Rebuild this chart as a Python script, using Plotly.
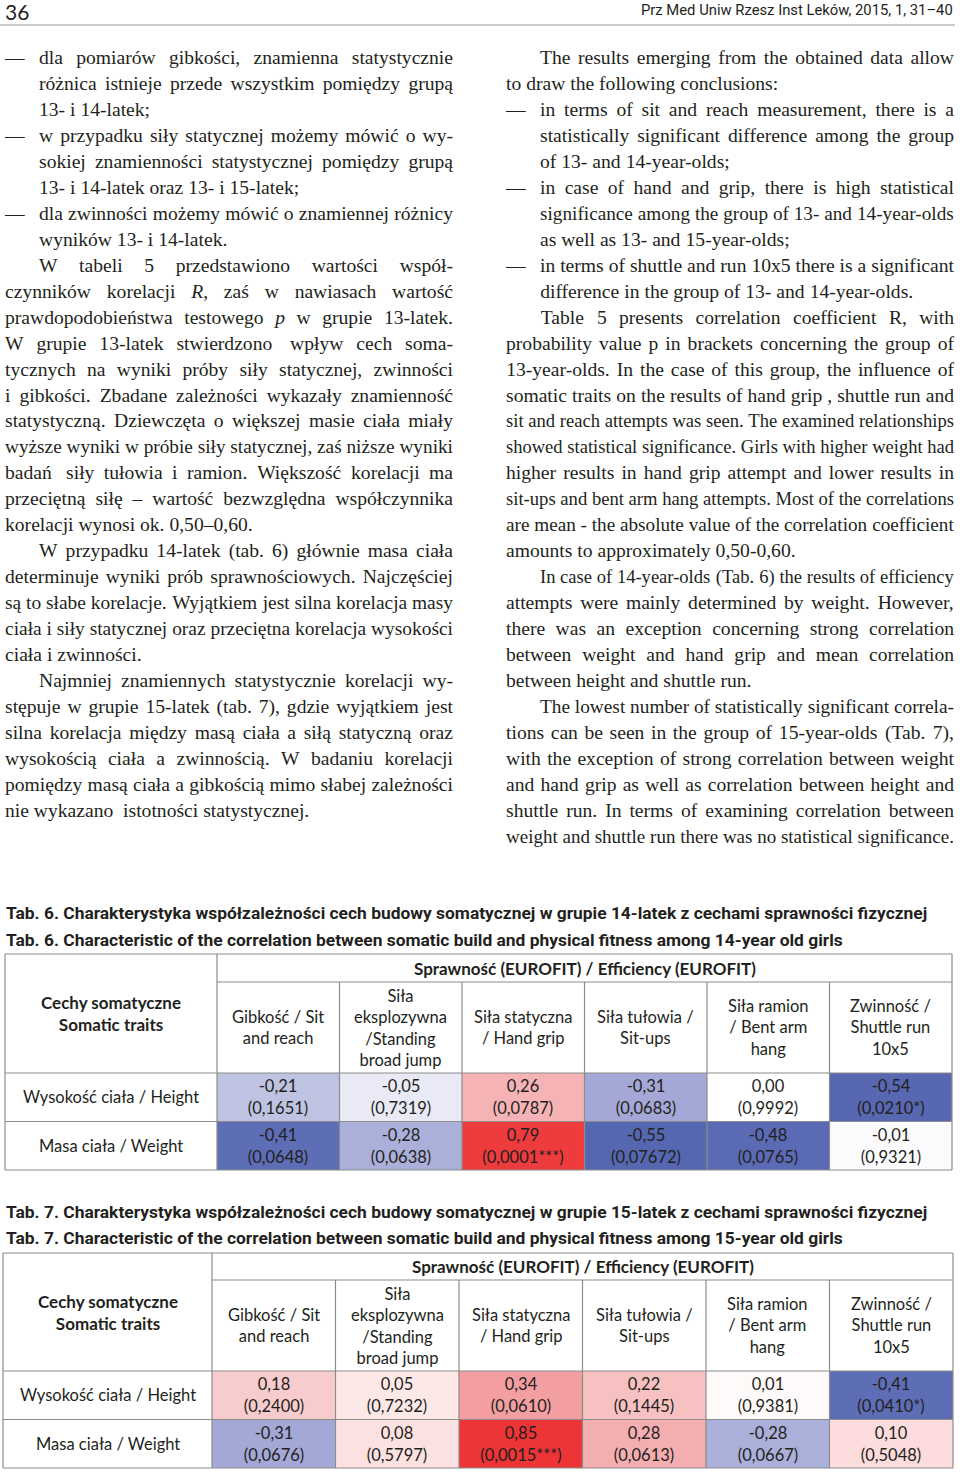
import plotly.graph_objects as go

W, H = 960, 1474

# ---------------- data ----------------
fitness_tests = [
    "Gibkość / Sit<br>and reach",
    "Siła<br>eksplozywna<br>/Standing<br>broad jump",
    "Siła statyczna<br>/ Hand grip",
    "Siła tułowia /<br>Sit-ups",
    "Siła ramion<br>/ Bent arm<br>hang",
    "Zwinność /<br>Shuttle run<br>10x5",
]
somatic_traits = ["Wysokość ciała / Height", "Masa ciała / Weight"]

r_14 = [[-0.21, -0.05, 0.26, -0.31, 0.00, -0.54],
        [-0.41, -0.28, 0.79, -0.55, -0.48, -0.01]]
p_14 = [["0,1651", "0,7319", "0,0787", "0,0683", "0,9992", "0,0210*"],
        ["0,0648", "0,0638", "0,0001***", "0,07672", "0,0765", "0,9321"]]

r_15 = [[0.18, 0.05, 0.34, 0.22, 0.01, -0.41],
        [-0.31, 0.08, 0.85, 0.28, -0.28, 0.10]]
p_15 = [["0,2400", "0,7232", "0,0610", "0,1445", "0,9381", "0,0410*"],
        ["0,0676", "0,5797", "0,0015***", "0,0613", "0,0667", "0,5048"]]

caption_6 = ["Tab. 6. Charakterystyka współzależności cech budowy somatycznej w grupie 14-latek z cechami sprawności fizycznej",
             "Tab. 6. Characteristic of the correlation between somatic build and physical fitness among 14-year old girls"]
caption_7 = ["Tab. 7. Charakterystyka współzależności cech budowy somatycznej w grupie 15-latek z cechami sprawności fizycznej",
             "Tab. 7. Characteristic of the correlation between somatic build and physical fitness among 15-year old girls"]
header_group = "Sprawność (EUROFIT) / Efficiency (EUROFIT)"
header_traits = "Cechy somatyczne<br>Somatic traits"

page_number = "36"
running_head = "Prz Med Uniw Rzesz Inst Leków, 2015, 1, 31–40"

# B = bullet, H = hanging (justified), HL = hanging last, P = paragraph indent,
# J = justified, L = last line
left_text = [
    ("B", "dla pomiarów gibkości, znamienna statystycznie"),
    ("H", "różnica istnieje przede wszystkim pomiędzy grupą"),
    ("HL", "13- i 14-latek;"),
    ("B", "w przypadku siły statycznej możemy mówić o wy-"),
    ("H", "sokiej znamienności statystycznej pomiędzy grupą"),
    ("HL", "13- i 14-latek oraz 13- i 15-latek;"),
    ("B", "dla zwinności możemy mówić o znamiennej różnicy"),
    ("HL", "wyników 13- i 14-latek."),
    ("P", "W tabeli 5 przedstawiono wartości współ-"),
    ("J", "czynników korelacji *R*, zaś w nawiasach wartość"),
    ("J", "prawdopodobieństwa testowego *p* w grupie 13-latek."),
    ("J", "W grupie 13-latek stwierdzono  wpływ cech soma-"),
    ("J", "tycznych na wyniki próby siły statycznej, zwinności"),
    ("J", "i gibkości. Zbadane zależności wykazały znamienność"),
    ("J", "statystyczną. Dziewczęta o większej masie ciała miały"),
    ("J", "wyższe wyniki w próbie siły statycznej, zaś niższe wyniki"),
    ("J", "badań  siły tułowia i ramion. Większość korelacji ma"),
    ("J", "przeciętną siłę – wartość bezwzględna współczynnika"),
    ("L", "korelacji wynosi ok. 0,50–0,60."),
    ("P", "W przypadku 14-latek (tab. 6) głównie masa ciała"),
    ("J", "determinuje wyniki prób sprawnościowych. Najczęściej"),
    ("J", "są to słabe korelacje. Wyjątkiem jest silna korelacja masy"),
    ("J", "ciała i siły statycznej oraz przeciętna korelacja wysokości"),
    ("L", "ciała i zwinności."),
    ("P", "Najmniej znamiennych statystycznie korelacji wy-"),
    ("J", "stępuje w grupie 15-latek (tab. 7), gdzie wyjątkiem jest"),
    ("J", "silna korelacja między masą ciała a siłą statyczną oraz"),
    ("J", "wysokością ciała a zwinnością. W badaniu korelacji"),
    ("J", "pomiędzy masą ciała a gibkością mimo słabej zależności"),
    ("L", "nie wykazano  istotności statystycznej."),
]

right_text = [
    ("P", "The results emerging from the obtained data allow"),
    ("L", "to draw the following conclusions:"),
    ("B", "in terms of sit and reach measurement, there is a"),
    ("H", "statistically significant difference among the group"),
    ("HL", "of 13- and 14-year-olds;"),
    ("B", "in case of hand and grip, there is high statistical"),
    ("H", "significance among the group of 13- and 14-year-olds"),
    ("HL", "as well as 13- and 15-year-olds;"),
    ("B", "in terms of shuttle and run 10x5 there is a significant"),
    ("HL", "difference in the group of 13- and 14-year-olds."),
    ("P", "Table 5 presents correlation coefficient R, with"),
    ("J", "probability value p in brackets concerning the group of"),
    ("J", "13-year-olds. In the case of this group, the influence of"),
    ("J", "somatic traits on the results of hand grip , shuttle run and"),
    ("J", "sit and reach attempts was seen. The examined relationships"),
    ("J", "showed statistical significance. Girls with higher weight had"),
    ("J", "higher results in hand grip attempt and lower results in"),
    ("J", "sit-ups and bent arm hang attempts. Most of the correlations"),
    ("J", "are mean - the absolute value of the correlation coefficient"),
    ("L", "amounts to approximately 0,50-0,60."),
    ("P", "In case of 14-year-olds (Tab. 6) the results of efficiency"),
    ("J", "attempts were mainly determined by weight. However,"),
    ("J", "there was an exception concerning strong correlation"),
    ("J", "between weight and hand grip and mean correlation"),
    ("L", "between height and shuttle run."),
    ("P", "The lowest number of statistically significant correla-"),
    ("J", "tions can be seen in the group of 15-year-olds (Tab. 7),"),
    ("J", "with the exception of strong correlation between weight"),
    ("J", "and hand grip as well as correlation between height and"),
    ("J", "shuttle run. In terms of examining correlation between"),
    ("L", "weight and shuttle run there was no statistical significance."),
]

# ---------------- styling / layout constants ----------------
TEXT = "#231f20"
SERIF = "Liberation Serif"
SANS = "Lato"
NARROW = "Roboto"
BODY_FS = 19.6
LINE_H = 25.97
BODY_Y0 = 59.0
INDENT = 34
GRID = "#8c8c8c"

# Times / Liberation Serif advance widths (1/1000 em)
TW = {' ': 250, '!': 333, '(': 333, ')': 333, ',': 250, '-': 333, '.': 250, '/': 278,
      ':': 278, ';': 278, '?': 444, '–': 500, '—': 1000, '*': 500,
      'A': 722, 'B': 667, 'C': 667, 'D': 722, 'E': 611, 'F': 556, 'G': 722, 'H': 722,
      'I': 333, 'J': 389, 'K': 722, 'L': 611, 'M': 889, 'N': 722, 'O': 722, 'P': 556,
      'Q': 722, 'R': 667, 'S': 556, 'T': 611, 'U': 722, 'V': 722, 'W': 944, 'X': 722,
      'Y': 722, 'Z': 611,
      'a': 444, 'b': 500, 'c': 444, 'd': 500, 'e': 444, 'f': 333, 'g': 500, 'h': 500,
      'i': 278, 'j': 278, 'k': 500, 'l': 278, 'm': 778, 'n': 500, 'o': 500, 'p': 500,
      'q': 500, 'r': 333, 's': 389, 't': 278, 'u': 500, 'v': 500, 'w': 722, 'x': 500,
      'y': 500, 'z': 444,
      'ą': 444, 'ć': 444, 'ę': 444, 'ł': 278, 'ń': 500, 'ó': 500, 'ś': 389, 'ź': 444, 'ż': 444}
for d in "0123456789":
    TW[d] = 500
TW_ITALIC = {'R': 611, 'p': 500}


def word_units(tok):
    units, italic = 0, False
    for ch in tok:
        if ch == '*':
            italic = not italic
            continue
        if italic and ch in TW_ITALIC:
            units += TW_ITALIC[ch]
        else:
            units += TW.get(ch, 500)
    return units


def to_markup(tok):
    out, italic = "", False
    for ch in tok:
        if ch == '*':
            out += "</i>" if italic else "<i>"
            italic = not italic
        else:
            out += ch
    return out


def layout_column(lines, col_left, col_right):
    xs, ys, texts, sizes = [], [], [], []
    for i, (kind, txt) in enumerate(lines):
        y = BODY_Y0 + LINE_H * i
        left = col_left + (INDENT if kind in ("B", "H", "HL", "P") else 0)
        justify = kind in ("B", "H", "P", "J")
        if kind == "B":
            w = TW['—'] * BODY_FS / 1000
            xs.append(col_left + w / 2); ys.append(y); texts.append("—"); sizes.append(BODY_FS)
        tokens = txt.split(' ')
        words = [t for t in tokens if t]
        extra = len(tokens) - len(words)
        units = sum(word_units(t) for t in words)
        ngaps = len(words) - 1
        avail = col_right - left
        fs = BODY_FS
        natural = (units + (ngaps + extra) * 250) * fs / 1000
        if natural > avail:
            fs = fs * avail / natural
        if justify and ngaps > 0:
            gap = (avail - units * fs / 1000 - extra * 250 * fs / 1000) / ngaps
        else:
            gap = 250 * fs / 1000
        x = left
        for tok in tokens:
            if tok == '':
                x += 250 * fs / 1000
                continue
            w = word_units(tok) * fs / 1000
            xs.append(x + w / 2); ys.append(y); texts.append(to_markup(tok)); sizes.append(fs)
            x += w + gap
    return xs, ys, texts, sizes


fig = go.Figure()

for lines, cl, cr in [(left_text, 5, 453), (right_text, 506, 954)]:
    xs, ys, texts, sizes = layout_column(lines, cl, cr)
    fig.add_trace(go.Scatter(
        x=xs, y=ys, text=texts, mode="text", textposition="middle center",
        textfont=dict(family=SERIF, size=sizes, color=TEXT),
        hoverinfo="skip", showlegend=False, xaxis="x", yaxis="y"))

# colour scale (diverging blue - white - red)
ZMIN, ZMAX = -0.85, 0.85
stops = [(-0.85, "#4a5aaa"), (-0.55, "#5667b2"), (-0.41, "#5d6db6"), (-0.31, "#a3a8d6"),
         (-0.21, "#bfc3e2"), (-0.05, "#e9eaf5"), (0.0, "#ffffff"), (0.05, "#fde8e8"),
         (0.10, "#fcdcdc"), (0.18, "#f8cccd"), (0.26, "#f6b3b5"), (0.34, "#f39ea0"),
         (0.79, "#ee3b3d"), (0.85, "#ed3436")]
colorscale = [[(v - ZMIN) / (ZMAX - ZMIN), c] for v, c in stops]


def fmt(v):
    return f"{v:.2f}".replace(".", ",")


tables = [
    dict(r=r_14, p=p_14, cap=caption_6, cap_y=(913, 940), left=5, right=952, top=954,
         h1=982, h2=1073, bottom=1170, c0=217, ax="2"),
    dict(r=r_15, p=p_15, cap=caption_7, cap_y=(1212, 1238), left=3, right=953, top=1253,
         h1=1280, h2=1371, bottom=1468, c0=212, ax="3"),
]

annotations = []
shapes = []
layout_axes = {}

for t in tables:
    ax = t["ax"]
    n = len(fitness_tests)
    colw = (t["right"] - t["c0"]) / n
    rowh = (t["bottom"] - t["h2"]) / len(somatic_traits)
    texts = [[f"{fmt(v)}<br>({p})" for v, p in zip(rr, pp)] for rr, pp in zip(t["r"], t["p"])]
    fig.add_trace(go.Heatmap(
        z=t["r"], x=fitness_tests, y=somatic_traits, text=texts, texttemplate="%{text}",
        textfont=dict(family=SANS, size=16.5, color=TEXT),
        colorscale=colorscale, zmin=ZMIN, zmax=ZMAX, showscale=False, hoverinfo="skip",
        xaxis="x" + ax, yaxis="y" + ax))
    layout_axes["xaxis" + ax] = dict(domain=[t["c0"] / W, t["right"] / W], range=[-0.5, n - 0.5],
                                    visible=False, fixedrange=True, anchor="y" + ax)
    layout_axes["yaxis" + ax] = dict(domain=[1 - t["bottom"] / H, 1 - t["h2"] / H],
                                    range=[len(somatic_traits) - 0.5, -0.5],
                                    visible=False, fixedrange=True, anchor="x" + ax)
    # captions
    for line, cy in zip(t["cap"], t["cap_y"]):
        annotations.append(dict(x=4, y=cy, xref="x", yref="y", text=line, showarrow=False,
                                xanchor="left", yanchor="middle",
                                font=dict(family=NARROW, size=17.4, color=TEXT, weight="bold")))
    # headers
    annotations.append(dict(x=(t["left"] + t["c0"]) / 2, y=(t["top"] + t["h2"]) / 2, xref="x", yref="y",
                            text=header_traits, showarrow=False, xanchor="center", yanchor="middle",
                            font=dict(family=SANS, size=17, color=TEXT, weight="bold")))
    annotations.append(dict(x=(t["c0"] + t["right"]) / 2, y=(t["top"] + t["h1"]) / 2, xref="x", yref="y",
                            text=header_group, showarrow=False, xanchor="center", yanchor="middle",
                            font=dict(family=SANS, size=17, color=TEXT, weight="bold")))
    for j, lab in enumerate(fitness_tests):
        annotations.append(dict(x=t["c0"] + colw * (j + 0.5), y=(t["h1"] + t["h2"]) / 2, xref="x", yref="y",
                                text=lab, showarrow=False, xanchor="center", yanchor="middle",
                                font=dict(family=SANS, size=16.5, color=TEXT)))
    for i, lab in enumerate(somatic_traits):
        annotations.append(dict(x=(t["left"] + t["c0"]) / 2, y=t["h2"] + rowh * (i + 0.5), xref="x", yref="y",
                                text=lab, showarrow=False, xanchor="center", yanchor="middle",
                                font=dict(family=SANS, size=16.5, color=TEXT)))
    # grid
    line = dict(color=GRID, width=1.2)
    for yy in [t["top"], t["h2"]] + [t["h2"] + rowh * k for k in range(1, len(somatic_traits) + 1)]:
        shapes.append(dict(type="line", xref="x", yref="y", x0=t["left"], x1=t["right"], y0=yy, y1=yy, line=line))
    shapes.append(dict(type="line", xref="x", yref="y", x0=t["c0"], x1=t["right"], y0=t["h1"], y1=t["h1"], line=line))
    for xx in [t["left"], t["c0"], t["right"]]:
        shapes.append(dict(type="line", xref="x", yref="y", x0=xx, x1=xx, y0=t["top"], y1=t["bottom"], line=line))
    for k in range(1, n):
        xx = t["c0"] + colw * k
        shapes.append(dict(type="line", xref="x", yref="y", x0=xx, x1=xx, y0=t["h1"], y1=t["bottom"], line=line))

# running head
annotations.append(dict(x=3, y=11, xref="x", yref="y", text=page_number, showarrow=False,
                        xanchor="left", yanchor="middle", font=dict(family=SANS, size=21, color=TEXT)))
annotations.append(dict(x=955, y=10, xref="x", yref="y", text=running_head, showarrow=False,
                        xanchor="right", yanchor="middle", font=dict(family=NARROW, size=14.8, color=TEXT)))
shapes.append(dict(type="line", xref="x", yref="y", x0=0, x1=955, y0=25, y1=25,
                   line=dict(color="#9a9a9a", width=1.2)))

fig.update_layout(
    width=W, height=H, margin=dict(l=0, r=0, t=0, b=0),
    paper_bgcolor="white", plot_bgcolor="rgba(0,0,0,0)",
    xaxis=dict(domain=[0, 1], range=[0, W], visible=False, fixedrange=True),
    yaxis=dict(domain=[0, 1], range=[H, 0], visible=False, fixedrange=True),
    annotations=annotations, shapes=shapes, showlegend=False,
    **layout_axes,
)

fig.write_html("out.html", config={"displayModeBar": False},
               post_script="document.body.style.margin='0px';")
